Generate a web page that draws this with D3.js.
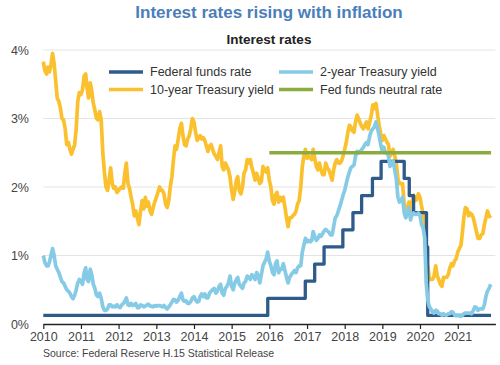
<!DOCTYPE html>
<html>
<head>
<meta charset="utf-8">
<script src="https://cdn.jsdelivr.net/npm/d3@7"></script>
<style>
body { margin: 0; background: #fff; }
svg { font-family: "Liberation Sans", Arial, sans-serif; }
</style>
</head>
<body>
<svg width="500" height="365"></svg>
<script>
// semi-monthly readings (1st and 16th of each month), Jan 2010 - Nov 2021
var tenYear = [
  3.83,3.70, 3.65,3.75, 3.68,3.78, 3.95,3.80, 3.55,3.30, 3.25,3.15, 3.00,2.98, 2.85,2.62, 2.65,2.55, 2.48,2.55, 2.62,2.85, 3.25,3.38,
  3.35,3.42, 3.62,3.65, 3.45,3.30, 3.52,3.40, 3.22,3.12, 3.00,2.98, 3.10,2.98, 2.50,2.22, 2.00,1.95, 2.10,2.28, 2.05,1.98, 2.00,1.92,
  1.95,1.98, 2.00,1.98, 2.20,2.35, 2.05,1.98, 1.85,1.75, 1.58,1.65, 1.55,1.45, 1.65,1.80, 1.68,1.85, 1.72,1.78, 1.65,1.60, 1.70,1.78,
  1.85,1.92, 2.00,1.95, 1.95,1.90, 1.75,1.70, 1.80,2.00, 2.15,2.40, 2.60,2.55, 2.70,2.85, 2.93,2.75, 2.62,2.60, 2.70,2.75, 2.85,3.00,
  2.95,2.80, 2.68,2.72, 2.75,2.70, 2.72,2.68, 2.60,2.52, 2.60,2.62, 2.55,2.48, 2.45,2.40, 2.50,2.60, 2.30,2.25, 2.35,2.30, 2.25,2.15,
  1.95,1.82, 1.95,2.10, 2.15,1.95, 1.90,2.00, 2.20,2.25, 2.40,2.35, 2.40,2.28, 2.20,2.10, 2.20,2.12, 2.05,2.08, 2.30,2.25, 2.22,2.28,
  2.10,2.00, 1.80,1.75, 1.88,1.92, 1.78,1.85, 1.80,1.85, 1.70,1.55, 1.42,1.55, 1.55,1.58, 1.60,1.65, 1.75,1.80, 2.00,2.30, 2.45,2.55,
  2.42,2.45, 2.42,2.40, 2.55,2.42, 2.30,2.25, 2.35,2.25, 2.18,2.18, 2.35,2.28, 2.25,2.18, 2.10,2.25, 2.35,2.40, 2.35,2.35, 2.38,2.45,
  2.55,2.65, 2.80,2.90, 2.88,2.82, 2.80,2.95, 3.05,3.00, 2.93,2.88, 2.85,2.90, 2.95,2.85, 2.95,3.05, 3.20,3.15, 3.22,3.05, 2.90,2.78,
  2.68,2.75, 2.70,2.65, 2.62,2.45, 2.50,2.55, 2.45,2.35, 2.12,2.05, 2.05,2.05, 1.75,1.58, 1.70,1.78, 1.62,1.78, 1.88,1.80, 1.82,1.90,
  1.85,1.72, 1.60,1.45, 0.85,0.85, 0.65,0.65, 0.65,0.70, 0.85,0.70, 0.65,0.58, 0.55,0.68, 0.68,0.68, 0.72,0.82, 0.88,0.85, 0.92,0.95,
  1.05,1.10, 1.15,1.35, 1.55,1.70, 1.68,1.58, 1.62,1.60, 1.55,1.45, 1.35,1.25, 1.25,1.30, 1.32,1.45, 1.55,1.65, 1.58,1.55
];
var twoYear = [
  1.00,0.90, 0.85,0.85, 0.90,1.00, 1.10,1.00, 0.85,0.80, 0.75,0.68, 0.62,0.60, 0.55,0.50, 0.48,0.45, 0.40,0.37, 0.42,0.50, 0.60,0.65,
  0.62,0.58, 0.75,0.82, 0.65,0.62, 0.80,0.72, 0.58,0.52, 0.42,0.40, 0.45,0.38, 0.25,0.20, 0.20,0.22, 0.28,0.28, 0.25,0.26, 0.25,0.28,
  0.25,0.24, 0.28,0.30, 0.33,0.38, 0.28,0.27, 0.30,0.27, 0.28,0.30, 0.24,0.24, 0.28,0.27, 0.25,0.26, 0.28,0.29, 0.26,0.26, 0.25,0.27,
  0.26,0.27, 0.27,0.26, 0.25,0.27, 0.24,0.22, 0.25,0.28, 0.32,0.36, 0.35,0.32, 0.35,0.40, 0.45,0.35, 0.33,0.34, 0.30,0.30, 0.33,0.38,
  0.40,0.35, 0.32,0.33, 0.40,0.44, 0.40,0.44, 0.38,0.38, 0.45,0.48, 0.50,0.52, 0.45,0.48, 0.55,0.58, 0.45,0.42, 0.52,0.55, 0.60,0.70,
  0.55,0.50, 0.60,0.65, 0.68,0.58, 0.55,0.52, 0.60,0.62, 0.70,0.68, 0.65,0.72, 0.70,0.65, 0.75,0.70, 0.60,0.72, 0.85,0.90, 0.95,1.05,
  0.92,0.85, 0.75,0.72, 0.88,0.92, 0.75,0.80, 0.80,0.88, 0.78,0.68, 0.60,0.68, 0.72,0.75, 0.78,0.75, 0.82,0.85, 0.85,1.05, 1.15,1.25,
  1.20,1.22, 1.20,1.22, 1.35,1.28, 1.22,1.25, 1.30,1.28, 1.32,1.36, 1.38,1.36, 1.34,1.30, 1.30,1.42, 1.55,1.58, 1.65,1.72, 1.80,1.88,
  1.95,2.05, 2.15,2.22, 2.28,2.30, 2.32,2.45, 2.52,2.50, 2.52,2.55, 2.58,2.62, 2.65,2.62, 2.75,2.82, 2.85,2.88, 2.95,2.85, 2.75,2.62,
  2.52,2.58, 2.50,2.50, 2.45,2.30, 2.35,2.38, 2.25,2.12, 1.85,1.78, 1.82,1.85, 1.62,1.55, 1.62,1.70, 1.52,1.60, 1.62,1.60, 1.60,1.62,
  1.58,1.45, 1.40,1.25, 0.60,0.35, 0.25,0.22, 0.17,0.16, 0.20,0.19, 0.15,0.15, 0.13,0.15, 0.13,0.13, 0.15,0.15, 0.18,0.17, 0.13,0.12,
  0.13,0.12, 0.11,0.13, 0.15,0.16, 0.16,0.16, 0.16,0.15, 0.20,0.25, 0.24,0.20, 0.22,0.22, 0.22,0.28, 0.40,0.48, 0.52,0.58
];
// fed funds target midpoint, from each change date
var fedDates = ["2010-01-01","2015-12-17","2016-12-15","2017-03-16","2017-06-15","2017-12-14","2018-03-22","2018-06-14",
  "2018-09-27","2018-12-20","2019-08-01","2019-09-19","2019-10-31","2020-03-04","2020-03-16","2021-11-20"];
var fedRate = [0.125,0.375,0.625,0.875,1.125,1.375,1.625,1.875,2.125,2.375,2.125,1.875,1.625,1.125,0.125,0.125];
var neutralDates = ["2016-01-01","2021-11-20"];
var neutralRate = [2.5,2.5];
var yTicks = [0,1,2,3,4];
var xYears = [2010,2011,2012,2013,2014,2015,2016,2017,2018,2019,2020,2021];

var parse = d3.timeParse("%Y-%m-%d");
function semiMonthly(vals) {
  return vals.map(function(v, i) {
    return {date: new Date(2010, Math.floor(i / 2), i % 2 ? 16 : 1), value: v};
  });
}
function byDate(dates, vals) {
  return dates.map(function(d, i) { return {date: parse(d), value: vals[i]}; });
}

var svg = d3.select("svg");
var plotLeft = 43.3, plotRight = 495.4, plotTop = 50, plotBottom = 324;

var x = d3.scaleTime().domain([new Date(2010,0,1), new Date(2022,0,1)]).range([plotLeft, plotRight]);
var y = d3.scaleLinear().domain([0,4]).range([plotBottom, plotTop]);

svg.append("text").attr("x", 269).attr("y", 18).attr("text-anchor","middle")
  .attr("font-size", 17).attr("font-weight","bold").attr("fill","#4a7ebb")
  .text("Interest rates rising with inflation");
svg.append("text").attr("x", 269).attr("y", 44).attr("text-anchor","middle")
  .attr("font-size", 13.5).attr("font-weight","bold").attr("fill","#222")
  .text("Interest rates");

// grid
svg.append("g").selectAll("line").data(yTicks.filter(function(d){return d>0;})).enter().append("line")
  .attr("x1", plotLeft).attr("x2", plotRight)
  .attr("y1", function(d){return y(d);}).attr("y2", function(d){return y(d);})
  .attr("stroke","#e4e4e4").attr("stroke-width",1);

svg.append("g").selectAll("text").data(yTicks).enter().append("text")
  .attr("x", 29).attr("y", function(d){return y(d)+4.5;})
  .attr("text-anchor","end").attr("font-size",12.5).attr("fill","#444")
  .text(function(d){return d + "%";});

var xAxis = svg.append("g").attr("transform","translate(0,"+plotBottom+")")
  .call(d3.axisBottom(x).tickValues(xYears.map(function(yr){return new Date(yr,0,1);}))
    .tickFormat(d3.timeFormat("%Y")).tickSize(5).tickSizeOuter(0));
xAxis.select(".domain").attr("stroke","#222").attr("stroke-width",1.5);
xAxis.selectAll(".tick line").attr("stroke","#222").attr("stroke-width",1.2);
xAxis.selectAll(".tick text").attr("font-size",12.5).attr("fill","#444")
  .attr("font-family","'Liberation Sans', Arial, sans-serif");

var line = d3.line().x(function(d){return x(d.date);}).y(function(d){return y(d.value);});
var stepLine = d3.line().curve(d3.curveStepAfter).x(function(d){return x(d.date);}).y(function(d){return y(d.value);});

var series = [
  {name:"10-year Treasury yield", color:"#fbc02d", w:3.7, data: semiMonthly(tenYear), gen: line},
  {name:"Federal funds rate", color:"#2e5b8a", w:3.3, data: byDate(fedDates, fedRate), gen: stepLine},
  {name:"2-year Treasury yield", color:"#86cbe6", w:3.7, data: semiMonthly(twoYear), gen: line},
  {name:"Fed funds neutral rate", color:"#8aac3e", w:3.5, data: byDate(neutralDates, neutralRate), gen: line}
];
svg.append("g").selectAll("path").data(series).enter().append("path")
  .attr("d", function(s){return s.gen(s.data);})
  .attr("fill","none").attr("stroke", function(s){return s.color;})
  .attr("stroke-width", function(s){return s.w;}).attr("stroke-linejoin","round");

// legend
var legendItems = [
  {name:"Federal funds rate", color:"#2e5b8a", lx:109, ly:72},
  {name:"2-year Treasury yield", color:"#86cbe6", lx:279, ly:72},
  {name:"10-year Treasury yield", color:"#fbc02d", lx:109, ly:89.5},
  {name:"Fed funds neutral rate", color:"#8aac3e", lx:279, ly:89.5}
];
var lg = svg.append("g").selectAll("g").data(legendItems).enter().append("g")
  .attr("transform", function(d){return "translate("+d.lx+","+d.ly+")";});
lg.append("line").attr("x1",0).attr("x2",34).attr("stroke", function(d){return d.color;}).attr("stroke-width",3.5);
lg.append("text").attr("x",41).attr("y",4.3).attr("font-size",12.5).attr("fill","#333").text(function(d){return d.name;});

svg.append("text").attr("x", 43).attr("y", 357).attr("font-size", 10.5).attr("fill","#444")
  .text("Source: Federal Reserve H.15 Statistical Release");
</script>
</body>
</html>
